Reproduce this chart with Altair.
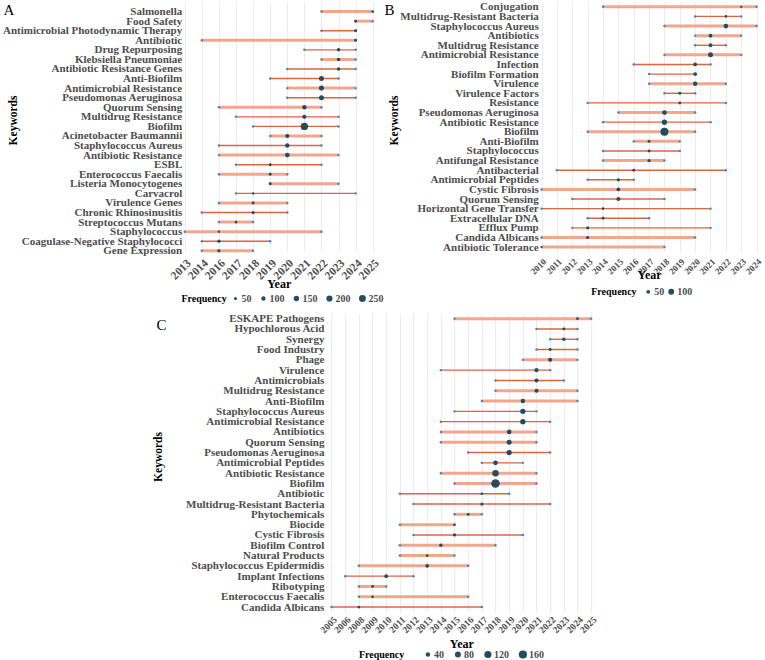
import altair as alt
import pandas as pd

FONT = "Liberation Serif"
LIGHT = "#f2a68e"
DARK = "#dd6440"
DOT = "#234e5e"
END = "#4a86b0"
GRID = "#ebebeb"
LABEL = "#4d4d4d"

# ---- Panel A -------------------------------------------------------------
a_years = [2013, 2014, 2016, 2017, 2018, 2019, 2020, 2021, 2022, 2023, 2024, 2025]
a_keywords = [
    "Salmonella", "Food Safety", "Antimicrobial Photodynamic Therapy", "Antibiotic",
    "Drug Repurposing", "Klebsiella Pneumoniae", "Antibiotic Resistance Genes",
    "Anti-Biofilm", "Antimicrobial Resistance", "Pseudomonas Aeruginosa",
    "Quorum Sensing", "Multidrug Resistance", "Biofilm", "Acinetobacter Baumannii",
    "Staphylococcus Aureus", "Antibiotic Resistance", "ESBL", "Enterococcus Faecalis",
    "Listeria Monocytogenes", "Carvacrol", "Virulence Genes", "Chronic Rhinosinusitis",
    "Streptococcus Mutans", "Staphylococcus", "Coagulase-Negative Staphylococci",
    "Gene Expression",
]
a_start = [2022, 2024, 2022, 2014, 2021, 2022, 2020, 2019, 2020, 2020, 2016, 2017, 2018,
           2019, 2016, 2016, 2017, 2016, 2019, 2017, 2016, 2014, 2016, 2013, 2014, 2014]
a_median = [2025, 2024, 2024, 2024, 2023, 2023, 2023, 2022, 2022, 2022, 2021, 2021, 2021,
            2020, 2020, 2020, 2019, 2019, 2019, 2018, 2018, 2018, 2017, 2016, 2016, 2016]
a_end = [2025, 2025, 2024, 2024, 2024, 2024, 2024, 2023, 2024, 2024, 2022, 2023, 2023,
         2022, 2022, 2023, 2022, 2020, 2023, 2024, 2020, 2020, 2018, 2022, 2019, 2018]
a_freq = [30, 45, 45, 45, 66, 66, 66, 133, 133, 133, 103, 90, 285, 90, 103, 117, 45, 45,
          45, 30, 45, 56, 37, 30, 56, 56]
a_style = ["L", "L", "D", "L", "D", "L", "D", "D", "L", "D", "L", "D", "D", "L", "D", "L",
           "D", "L", "L", "D", "L", "D", "L", "L", "D", "L"]

# ---- Panel B -------------------------------------------------------------
b_years = list(range(2010, 2025))
b_keywords = [
    "Conjugation", "Multidrug-Resistant Bacteria", "Staphylococcus Aureus", "Antibiotics",
    "Multidrug Resistance", "Antimicrobial Resistance", "Infection", "Biofilm Formation",
    "Virulence", "Virulence Factors", "Resistance", "Pseudomonas Aeruginosa",
    "Antibiotic Resistance", "Biofilm", "Anti-Biofilm", "Staphylococcus",
    "Antifungal Resistance", "Antibacterial", "Antimicrobial Peptides", "Cystic Fibrosis",
    "Quorum Sensing", "Horizontal Gene Transfer", "Extracellular DNA", "Efflux Pump",
    "Candida Albicans", "Antibiotic Tolerance",
]
b_start = [2014, 2020, 2018, 2020, 2020, 2018, 2016, 2017, 2017, 2018, 2013, 2015, 2014,
           2013, 2016, 2014, 2014, 2011, 2013, 2010, 2012, 2010, 2013, 2012, 2010, 2010]
b_median = [2023, 2022, 2022, 2021, 2021, 2021, 2020, 2020, 2020, 2019, 2019, 2018, 2018,
            2018, 2017, 2017, 2017, 2016, 2015, 2015, 2015, 2014, 2014, 2013, 2013, 2010]
b_end = [2024, 2023, 2024, 2023, 2022, 2023, 2021, 2020, 2022, 2020, 2022, 2020, 2021,
         2020, 2019, 2019, 2018, 2022, 2016, 2020, 2018, 2021, 2017, 2021, 2020, 2018]
b_freq = [28, 32, 69, 50, 50, 76, 50, 50, 62, 36, 36, 69, 84, 170, 36, 36, 40, 36, 40, 50,
          56, 32, 36, 40, 40, 22]
b_style = ["L", "D", "L", "L", "D", "L", "D", "D", "L", "D", "D", "L", "D", "L", "L", "D",
           "L", "D", "D", "L", "D", "D", "D", "D", "L", "L"]

# ---- Panel C -------------------------------------------------------------
c_years = [2005, 2006] + list(range(2008, 2026))
c_keywords = [
    "ESKAPE Pathogens", "Hypochlorous Acid", "Synergy", "Food Industry", "Phage",
    "Virulence", "Antimicrobials", "Multidrug Resistance", "Anti-Biofilm",
    "Staphylococcus Aureus", "Antimicrobial Resistance", "Antibiotics", "Quorum Sensing",
    "Pseudomonas Aeruginosa", "Antimicrobial Peptides", "Antibiotic Resistance", "Biofilm",
    "Antibiotic", "Multidrug-Resistant Bacteria", "Phytochemicals", "Biocide",
    "Cystic Fibrosis", "Biofilm Control", "Natural Products", "Staphylococcus Epidermidis",
    "Implant Infections", "Ribotyping", "Enterococcus Faecalis", "Candida Albicans",
]
c_start = [2015, 2021, 2022, 2021, 2020, 2014, 2018, 2018, 2017, 2015, 2014, 2014, 2014,
           2016, 2017, 2014, 2015, 2011, 2012, 2015, 2011, 2012, 2011, 2011, 2008, 2006,
           2008, 2008, 2005]
c_median = [2024, 2023, 2023, 2022, 2022, 2021, 2021, 2021, 2020, 2020, 2020, 2019, 2019,
            2019, 2018, 2018, 2018, 2017, 2017, 2016, 2015, 2015, 2014, 2013, 2013, 2010,
            2009, 2009, 2008]
c_end = [2025, 2024, 2024, 2024, 2024, 2022, 2023, 2024, 2024, 2021, 2022, 2021, 2021,
         2022, 2020, 2021, 2021, 2019, 2022, 2017, 2015, 2020, 2018, 2015, 2016, 2012,
         2010, 2016, 2017]
c_freq = [10, 12, 22, 12, 34, 34, 34, 34, 40, 61, 61, 46, 54, 61, 46, 96, 176, 9, 18, 12,
          5, 18, 22, 9, 27, 27, 9, 9, 9]
c_style = ["L", "D", "D", "D", "L", "D", "D", "L", "L", "D", "D", "L", "L", "D", "D", "L",
           "L", "D", "D", "L", "L", "D", "L", "L", "L", "D", "L", "L", "D"]


def spacer(x1, x2, y):
    """Transparent rule used only to pin a panel's outer bounds."""
    return alt.Chart(pd.DataFrame({"s": [0]})).mark_rule(opacity=0).encode(
        x=alt.value(x1), x2=alt.value(x2), y=alt.value(y))


def panel(letter, years, keywords, start, median, end, freq, style, *, width, height,
          xpad, ypad, size_domain, size_range, legend_values, legend_x, legend_y,
          legend_gap, legend_title_pad, xlab_size, x_offset, year_pad, label_pad,
          title_x, title_y, letter_x, letter_y, lead_rows=0, head=None, right_edge=None):
    df = pd.DataFrame({"keyword": keywords, "start": start, "median": median,
                       "end": end, "freq": freq, "style": style})

    # optional blank slots above the first keyword leave head room in the panel
    y_domain = [" " * (i + 1) for i in range(lead_rows)] + keywords
    x_scale = alt.Scale(type="point", domain=years, padding=xpad)
    y_scale = alt.Scale(type="point", domain=y_domain, padding=ypad)
    x_axis = alt.Axis(title="Year", grid=True, gridColor=GRID, gridWidth=1, domain=False,
                      ticks=False, labelAngle=315, labelFontSize=xlab_size, labelPadding=2,
                      offset=x_offset, titleFontSize=12, titlePadding=year_pad,
                      labelOverlap=False)
    y_axis = alt.Axis(title="Keywords", grid=False, domain=False, ticks=False,
                      labelFontSize=11, labelPadding=label_pad, labelLimit=0,
                      titleFontSize=11.5, titleX=title_x, titleY=title_y,
                      labelOverlap=False)

    base = alt.Chart(df)
    spans = base.transform_fold(["start", "end"], as_=["edge", "year"])
    x_span = alt.X("year:O", scale=x_scale, axis=x_axis)
    y_kw = alt.Y("keyword:N", scale=y_scale, axis=y_axis)

    light = spans.transform_filter(alt.datum.style == "L").mark_line(
        color=LIGHT, strokeWidth=3).encode(x=x_span, y=y_kw, detail="keyword:N")
    dark = spans.transform_filter(alt.datum.style == "D").mark_line(
        color=DARK, strokeWidth=1.4).encode(x=x_span, y=y_kw, detail="keyword:N")
    ends = spans.mark_circle(color=END, size=6, opacity=1).encode(x=x_span, y=y_kw)

    dots = base.mark_circle(color=DOT, opacity=1).encode(
        x=alt.X("median:O", scale=x_scale, axis=x_axis),
        y=y_kw,
        size=alt.Size(
            "freq:Q",
            scale=alt.Scale(domain=size_domain, range=size_range),
            legend=alt.Legend(
                title="Frequency", orient="none", legendX=legend_x, legendY=legend_y,
                direction="horizontal", titleOrient="left", values=legend_values,
                symbolType="circle", symbolFillColor=DOT, symbolStrokeWidth=0,
                symbolOpacity=1, labelFont=FONT, labelFontWeight="bold",
                labelFontSize=10, labelColor=LABEL, labelOffset=1, titleFont=FONT,
                titleFontWeight="bold", titleFontSize=10, titleColor="black",
                titlePadding=legend_title_pad, columnPadding=legend_gap,
            ),
        ),
    )

    tag = alt.Chart(pd.DataFrame({"t": [letter]})).mark_text(
        font=FONT, fontSize=15, align="left", baseline="alphabetic", color="black"
    ).encode(x=alt.value(letter_x), y=alt.value(letter_y), text="t:N")

    layers = [light, dark, ends, dots, tag]
    if head is not None:
        layers.append(spacer(0, 1, -head))
    if right_edge is not None:
        layers.append(spacer(right_edge - 1, right_edge, 0))
    return alt.layer(*layers).properties(width=width, height=height)


HEAD = 12

chart_a = panel(
    "A", a_years, a_keywords, a_start, a_median, a_end, a_freq, a_style,
    width=191.4, height=248.8, xpad=0.1, ypad=0.0, lead_rows=1, head=HEAD,
    size_domain=[0, 300], size_range=[0, 57], legend_values=[50, 100, 150, 200, 250],
    legend_x=-1.6, legend_y=291.5, legend_gap=7, legend_title_pad=3,
    xlab_size=11.5, x_offset=4.2, year_pad=-2.5, label_pad=1.3,
    title_x=-164.6, title_y=118, letter_x=-179.6, letter_y=13,
)
chart_b = panel(
    "B", b_years, b_keywords, b_start, b_median, b_end, b_freq, b_style,
    width=218.1, height=249.9, xpad=0.1, ypad=0.5, head=HEAD,
    size_domain=[15, 170], size_range=[0, 63.7], legend_values=[50, 100],
    legend_x=51.2, legend_y=284.8, legend_gap=2, legend_title_pad=6,
    xlab_size=9, x_offset=3, year_pad=-6, label_pad=1.8,
    title_x=-141, title_y=118, letter_x=-155.5, letter_y=13,
)
chart_c = panel(
    "C", c_years, c_keywords, c_start, c_median, c_end, c_freq, c_style,
    width=270.5, height=298.7, xpad=0.4, ypad=0.5,
    size_domain=[0, 180], size_range=[3.6, 75.6], legend_values=[40, 80, 120, 160],
    legend_x=32.8, legend_y=336, legend_gap=9, legend_title_pad=18,
    xlab_size=9.5, x_offset=0, year_pad=3.7, label_pad=2.2,
    title_x=-163, title_y=143, letter_x=-169.5, letter_y=16, right_edge=293.8,
)

top = alt.hconcat(chart_a, chart_b, spacing=0).resolve_scale(size="independent")
chart = (
    alt.vconcat(top, chart_c, spacing=8.5, center=True)
    .resolve_scale(size="independent")
    .properties(padding={"left": 2, "top": 2 - HEAD, "right": 0, "bottom": 0})
    .configure_view(stroke=None)
    .configure_axis(labelFont=FONT, titleFont=FONT, labelFontWeight="bold",
                    titleFontWeight="bold", labelColor=LABEL, titleColor="black")
)

chart.save("out.html", embed_options={"renderer": "svg", "actions": False})
